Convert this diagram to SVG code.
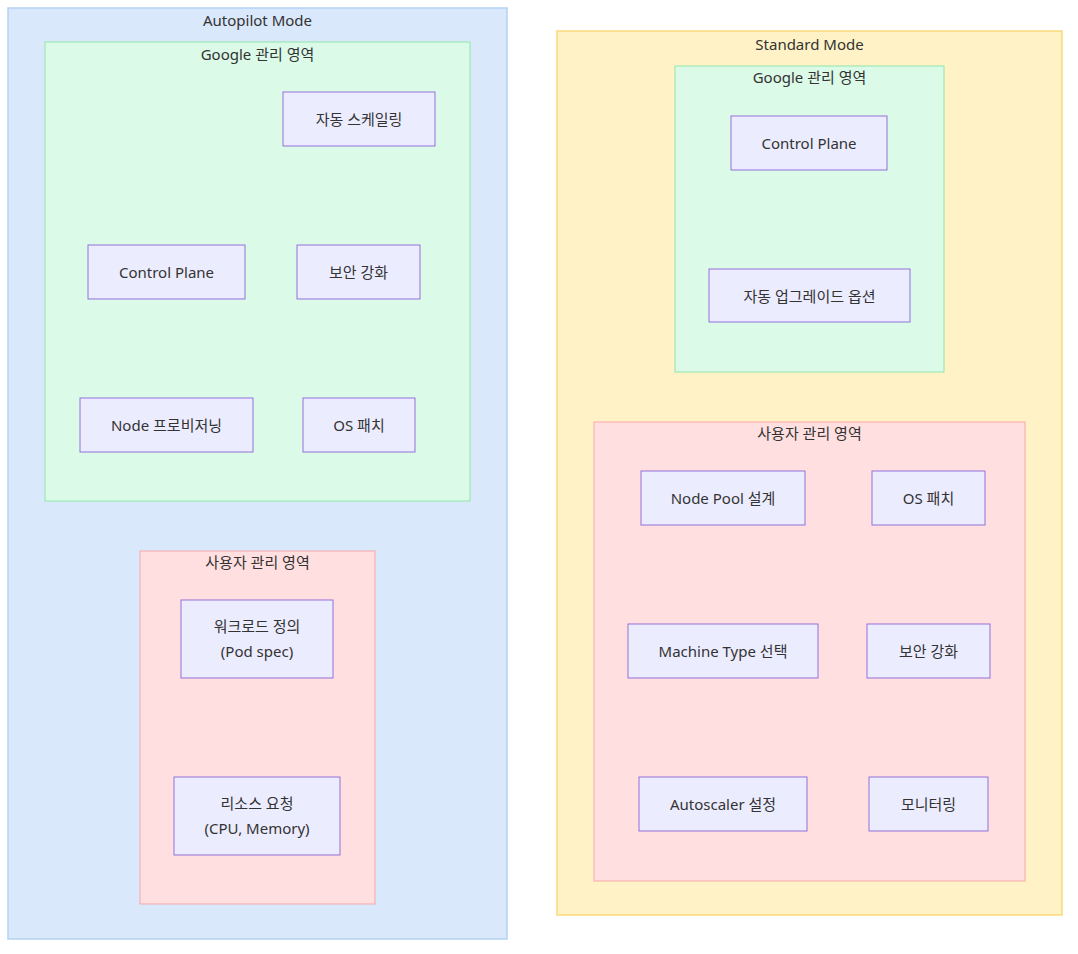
<svg xmlns="http://www.w3.org/2000/svg" width="1078" height="954" viewBox="0 0 1078 954">
<style>
text{font-family:"Noto Sans","DejaVu Sans","Noto Sans CJK KR",sans-serif;font-size:15px;fill:#333;text-anchor:middle;dominant-baseline:central}
.node rect{fill:#ECECFF;stroke:#9370DB;stroke-width:1}
.mode-ap{fill:#dae8fc;stroke:#b4d2f3;stroke-width:1.5}
.mode-st{fill:#fff2c6;stroke:#fbd97a;stroke-width:1.5}
.google{fill:#dcfae8;stroke:#8fe6a8;stroke-width:1}
.user{fill:#ffdfdf;stroke:#f6a9a9;stroke-width:1}
</style>
<rect width="1078" height="954" fill="#ffffff"/>
<g id="autopilot">
<rect class="mode-ap" x="8" y="8" width="499" height="931"/>
<text x="257.5" y="20">Autopilot Mode</text>
</g>
<g id="ap-google">
<rect class="google" x="45" y="42" width="425" height="459"/>
<text x="257.5" y="54">Google 관리 영역</text>
</g>
<g id="ap-user">
<rect class="user" x="140" y="551" width="235" height="353"/>
<text x="257.5" y="562">사용자 관리 영역</text>
</g>
<g id="standard">
<rect class="mode-st" x="557" y="31" width="505" height="884"/>
<text x="809.5" y="44">Standard Mode</text>
</g>
<g id="st-google">
<rect class="google" x="675" y="66" width="269" height="306"/>
<text x="809.5" y="77">Google 관리 영역</text>
</g>
<g id="st-user">
<rect class="user" x="594" y="422" width="431" height="459"/>
<text x="809.5" y="433">사용자 관리 영역</text>
</g>
<g id="connectors"></g>
<g id="ap-autoscale" class="node"><rect x="283" y="92" width="152" height="54"/><text x="359" y="119">자동 스케일링</text></g>
<g id="ap-control" class="node"><rect x="88" y="245" width="157" height="54"/><text x="166.5" y="272">Control Plane</text></g>
<g id="ap-security" class="node"><rect x="297" y="245" width="123" height="54"/><text x="358.5" y="272">보안 강화</text></g>
<g id="ap-provision" class="node"><rect x="80" y="398" width="173" height="54"/><text x="166.5" y="425">Node 프로비저닝</text></g>
<g id="ap-ospatch" class="node"><rect x="303" y="398" width="112" height="54"/><text x="359" y="425">OS 패치</text></g>
<g id="ap-workload" class="node"><rect x="181" y="600" width="152" height="78"/><text x="257" y="626">워크로드 정의</text><text x="257" y="651">(Pod spec)</text></g>
<g id="ap-resource" class="node"><rect x="174" y="777" width="166" height="78"/><text x="257" y="803">리소스 요청</text><text x="257" y="828">(CPU, Memory)</text></g>
<g id="st-control" class="node"><rect x="731" y="116" width="156" height="54"/><text x="809" y="143">Control Plane</text></g>
<g id="st-upgrade" class="node"><rect x="709" y="269" width="201" height="53"/><text x="809.5" y="295.5">자동 업그레이드 옵션</text></g>
<g id="st-nodepool" class="node"><rect x="641" y="471" width="164" height="54"/><text x="723" y="498">Node Pool 설계</text></g>
<g id="st-ospatch" class="node"><rect x="872" y="471" width="113" height="54"/><text x="928.5" y="498">OS 패치</text></g>
<g id="st-machine" class="node"><rect x="628" y="624" width="190" height="54"/><text x="723" y="651">Machine Type 선택</text></g>
<g id="st-security" class="node"><rect x="867" y="624" width="123" height="54"/><text x="928.5" y="651">보안 강화</text></g>
<g id="st-autoscaler" class="node"><rect x="639" y="777" width="168" height="54"/><text x="723" y="804">Autoscaler 설정</text></g>
<g id="st-monitor" class="node"><rect x="869" y="777" width="119" height="54"/><text x="928.5" y="804">모니터링</text></g>
</svg>
